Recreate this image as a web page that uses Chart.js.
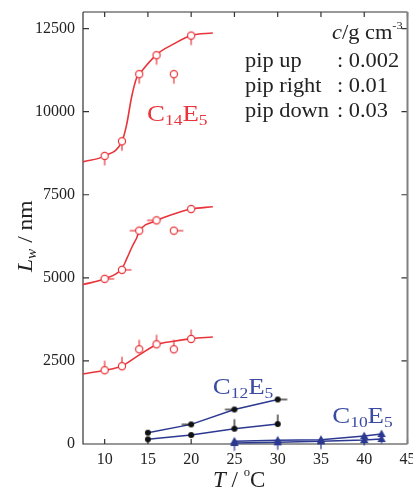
<!DOCTYPE html>
<html>
<head>
<meta charset="utf-8">
<script src="https://cdn.jsdelivr.net/npm/chart.js@4.4.0/dist/chart.umd.min.js"></script>
<style>
  html, body { margin: 0; background: #fff; }
  #wrap { width: 413px; height: 489px; }
</style>
</head>
<body>
<div id="wrap"><canvas id="chart"></canvas></div>
<script>
// C14E5 measured points (T in degC, Lw in nm)
const tC14 = [10, 12, 14, 16, 18, 20];
const c14Low = [2220, 2340, 2850, 3000, 2850, 3160];        // pip up
const c14Mid = [4970, 5240, 6420, 6730, 6420, 7070];        // pip right
const c14High = [8670, 9110, 11130, 11700, 11130, 12290];   // pip down
const c14MidPips = ['right', 'right', 'left', 'left', 'right', 'none'];

// guide curves through the C14E5 points
const fitLowT = [7.5, 10, 12, 14, 16, 18, 20, 22.5];
const fitLow = [2110, 2220, 2350, 2680, 2990, 3090, 3170, 3220];
const fitMidT = [7.5, 10, 12, 12.6, 13.2, 13.7, 14, 16, 18, 20, 22.5];
const fitMid = [4800, 4970, 5280, 5600, 5950, 6200, 6400, 6720, 6920, 7070, 7140];
const fitHighT = [7.5, 10, 12, 12.55, 13.1, 13.7, 14, 16, 18, 20, 22.5];
const fitHigh = [8490, 8670, 9110, 9620, 10420, 11020, 11130, 11720, 12040, 12290, 12370];

// C12E5
const tC12 = [15, 20, 25, 30];
const c12Upper = [340, 590, 1040, 1340];
const c12Lower = [140, 270, 460, 600];
const c12UpperPips = ['none', 'left', 'left', 'right'];
const c12LowerPips = ['none', 'none', 'up', 'up'];

// C10E5
const tC10 = [25, 30, 35, 40, 42];
const c10Upper = [80, 110, 130, 240, 300];
const c10Lower = [30, 50, 80, 120, 150];

const xTicks = [10, 15, 20, 25, 30, 35, 40, 45];
const yTicks = [0, 2500, 5000, 7500, 10000, 12500];

const RED = '#e8343a';
const BLUE = '#2b3990';
const BLUE_TXT = '#3b4aa3';
const SERIF = '"Liberation Serif", "Times New Roman", serif';

const xy = (ts, vs) => ts.map((t, i) => ({ x: t, y: vs[i] }));

// small canvas markers with a "pip"
function marker(kind, pip, color) {
  const s = 24, m = s / 2;
  const c = document.createElement('canvas');
  c.width = c.height = s;
  const g = c.getContext('2d');
  g.strokeStyle = color; g.fillStyle = color; g.lineWidth = 1.2;
  const d = { up: [0, -1], down: [0, 1], left: [-1, 0], right: [1, 0] }[pip];
  if (d) {
    g.beginPath(); g.moveTo(m, m); g.lineTo(m + d[0] * 9.5, m + d[1] * 9.5); g.stroke();
  }
  g.beginPath();
  if (kind === 'open') {
    g.arc(m, m, 3.6, 0, Math.PI * 2); g.fillStyle = '#fff'; g.fill(); g.stroke();
  } else if (kind === 'dot') {
    g.arc(m, m, 3, 0, Math.PI * 2); g.fill();
  } else {
    g.moveTo(m, m - 4.5); g.lineTo(m + 4.2, m + 3); g.lineTo(m - 4.2, m + 3); g.closePath(); g.fill();
  }
  return c;
}

function fitSet(ts, vs) {
  return {
    data: xy(ts, vs), showLine: true, pointRadius: 0, borderColor: RED, borderWidth: 1.6,
    cubicInterpolationMode: 'monotone', order: 2
  };
}
function pointSet(ts, vs, styles) {
  return { data: xy(ts, vs), showLine: false, pointRadius: 3, pointStyle: styles, clip: false, order: 0 };
}
function blueSet(ts, vs, styles) {
  return {
    data: xy(ts, vs), showLine: true, borderColor: BLUE, borderWidth: 1.5, tension: 0,
    pointRadius: 3, pointStyle: styles, clip: false, order: 1
  };
}

// text with italics / sub / superscripts
function rich(ctx, x, y, parts, size, color, sx) {
  ctx.save();
  ctx.translate(x, y);
  ctx.scale(sx, 1);
  ctx.fillStyle = color;
  ctx.textBaseline = 'alphabetic';
  ctx.textAlign = 'left';
  let cx = 0;
  parts.forEach(p => {
    const [txt, kind] = typeof p === 'string' ? [p, ''] : p;
    const k = kind.split(' ');
    let fs = size, dy = 0;
    if (k.includes('sub')) { fs = size * 0.65; dy = size * 0.18; }
    if (k.includes('sup')) { fs = size * 0.55; dy = -size * 0.5; }
    ctx.font = (k.includes('it') ? 'italic ' : '') + fs + 'px ' + SERIF;
    ctx.fillText(txt, cx, dy);
    cx += ctx.measureText(txt).width;
  });
  ctx.restore();
}

const framePlugin = {
  id: 'frame',
  beforeDatasetsDraw(chart) {
    const { ctx, chartArea: a, scales: { x, y } } = chart;
    ctx.save();
    ctx.lineWidth = 1.2; ctx.strokeStyle = '#333';
    ctx.beginPath();
    ctx.moveTo(a.left, a.top); ctx.lineTo(a.left, a.bottom); ctx.lineTo(a.right, a.bottom);
    ctx.moveTo(a.left, a.top); ctx.lineTo(a.right, a.top);
    x.ticks.forEach(t => {
      const px = x.getPixelForValue(t.value);
      ctx.moveTo(px, a.bottom); ctx.lineTo(px, a.bottom - 5);
      ctx.moveTo(px, a.top); ctx.lineTo(px, a.top + 5);
    });
    y.ticks.forEach(t => {
      const py = y.getPixelForValue(t.value);
      ctx.moveTo(a.left, py); ctx.lineTo(a.left + 6, py);
      ctx.moveTo(a.right, py); ctx.lineTo(a.right - 6, py);
    });
    ctx.stroke();
    ctx.lineWidth = 2; ctx.strokeStyle = '#808080';
    ctx.beginPath(); ctx.moveTo(a.right, a.top); ctx.lineTo(a.right, a.bottom); ctx.stroke();
    ctx.restore();
  }
};

const labelPlugin = {
  id: 'labels',
  afterDraw(chart) {
    const { ctx, chartArea: a, scales: { x, y } } = chart;
    const SX = 1.12;
    // series names
    rich(ctx, x.getPixelForValue(14.9), y.getPixelForValue(9720), ['C', ['14', 'sub'], 'E', ['5', 'sub']], 24, RED, SX);
    rich(ctx, x.getPixelForValue(22.5), y.getPixelForValue(1500), ['C', ['12', 'sub'], 'E', ['5', 'sub']], 24, BLUE_TXT, SX);
    rich(ctx, x.getPixelForValue(36.3), y.getPixelForValue(640), ['C', ['10', 'sub'], 'E', ['5', 'sub']], 24, BLUE_TXT, SX);

    // concentration key
    const lx = a.left + 162, cx = a.left + 254, tc = '#222';
    rich(ctx, a.left + 249, a.top + 27, [['c', 'it'], '/g cm', ['-3', 'sup']], 20, tc, SX);
    rich(ctx, lx, a.top + 55, ['pip up'], 20, tc, SX);
    rich(ctx, cx, a.top + 55, [': 0.002'], 20, tc, SX);
    rich(ctx, lx, a.top + 80, ['pip right'], 20, tc, SX);
    rich(ctx, cx, a.top + 80, [': 0.01'], 20, tc, SX);
    rich(ctx, lx, a.top + 105, ['pip down'], 20, tc, SX);
    rich(ctx, cx, a.top + 105, [': 0.03'], 20, tc, SX);

    // axis titles
    rich(ctx, 213, 487, [['T', 'it'], ' / ', ['o', 'sup'], 'C'], 23, tc, 1);
    ctx.save();
    ctx.translate(32, 272);
    ctx.rotate(-Math.PI / 2);
    rich(ctx, 0, 0, [['L', 'it'], ['w', 'sub it'], ' / nm'], 21, tc, SX);
    ctx.restore();
  }
};

new Chart(document.getElementById('chart'), {
  type: 'scatter',
  data: {
    datasets: [
      fitSet(fitLowT, fitLow),
      fitSet(fitMidT, fitMid),
      fitSet(fitHighT, fitHigh),
      pointSet(tC14, c14Low, tC14.map(() => marker('open', 'up', RED))),
      pointSet(tC14, c14Mid, c14MidPips.map(p => marker('open', p, RED))),
      pointSet(tC14, c14High, tC14.map(() => marker('open', 'down', RED))),
      blueSet(tC12, c12Upper, c12UpperPips.map(p => marker('dot', p, '#111'))),
      blueSet(tC12, c12Lower, c12LowerPips.map(p => marker('dot', p, '#111'))),
      blueSet(tC10, c10Upper, tC10.map(() => marker('tri', 'down', BLUE))),
      blueSet(tC10, c10Lower, tC10.map(() => marker('tri', 'none', BLUE)))
    ]
  },
  options: {
    responsive: true,
    maintainAspectRatio: false,
    animation: false,
    layout: { padding: { left: 0, top: 12, right: 5, bottom: 0 } },
    scales: {
      x: {
        type: 'linear', min: 7.5, max: 45,
        grid: { display: false, drawTicks: false },
        border: { display: false },
        ticks: {
          stepSize: 5, padding: 6, maxRotation: 0, autoSkip: false, color: '#222',
          font: { family: SERIF, size: 16 }, callback: v => String(v)
        },
        afterBuildTicks: s => { s.ticks = xTicks.map(v => ({ value: v })); },
        afterFit: s => { s.height = 45; s.paddingLeft = 0; s.paddingRight = 0; }
      },
      y: {
        type: 'linear', min: 0, max: 13000,
        grid: { display: false, drawTicks: false },
        border: { display: false },
        ticks: {
          stepSize: 2500, padding: 8, color: '#222',
          font: { family: SERIF, size: 16 }, callback: v => String(v)
        },
        afterBuildTicks: s => { s.ticks = yTicks.map(v => ({ value: v })); },
        afterFit: s => { s.width = 83; s.paddingTop = 0; s.paddingBottom = 0; }
      }
    },
    plugins: {
      legend: { display: false },
      tooltip: { enabled: false }
    }
  },
  plugins: [framePlugin, labelPlugin]
});
</script>
</body>
</html>
